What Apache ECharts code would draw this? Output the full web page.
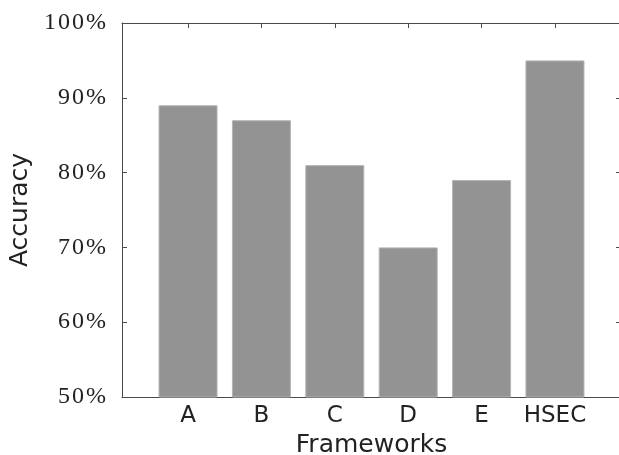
<!DOCTYPE html>
<html>
<head>
<meta charset="utf-8">
<script src="https://cdn.jsdelivr.net/npm/echarts@6/dist/echarts.min.js"></script>
<style>html,body{margin:0;padding:0;background:#fff}#c{width:619px;height:455px}</style>
</head>
<body>
<div id="c"></div>
<script>
const categories = ['A', 'B', 'C', 'D', 'E', 'HSEC'];
const accuracy = [89, 87, 81, 70, 79, 95];
const yTicks = [50, 60, 70, 80, 90, 100];
const xName = 'Frameworks';
const yName = 'Accuracy';

const positions = categories.map((c, i) => i + 1);
const seriesData = accuracy.map((v, i) => [positions[i], v]);
const axisColor = '#4a4a4a';
const hair = '\u200A';

const chart = echarts.init(document.getElementById('c'), null, {renderer: 'canvas'});
const xCommon = {
  type: 'value', min: 0.1, max: 6.9,
  splitLine: {show: false},
  axisLine: {show: true, onZero: false, lineStyle: {color: axisColor, width: 1}},
  axisTick: {show: true, inside: true, length: 5, customValues: positions, lineStyle: {color: axisColor}}
};
const yCommon = {
  type: 'value', min: yTicks[0], max: yTicks[yTicks.length - 1], interval: 10,
  splitLine: {show: false},
  axisLine: {show: true, onZero: false, lineStyle: {color: axisColor, width: 1}},
  axisTick: {show: true, inside: true, length: 5, lineStyle: {color: axisColor}}
};
chart.setOption({
  animation: false,
  grid: {left: 122, top: 23, right: -2, bottom: 58, containLabel: false, outerBoundsMode: 'none'},
  xAxis: [
    Object.assign({}, xCommon, {
      position: 'bottom',
      name: xName, nameLocation: 'middle', nameGap: 35,
      nameTextStyle: {fontFamily: 'DejaVu Sans', fontSize: 25, color: '#222'},
      axisLabel: {
        customValues: positions, margin: 8,
        fontFamily: 'DejaVu Sans', fontSize: 23, color: '#222',
        formatter: v => categories[Math.round(v) - 1] || ''
      }
    }),
    Object.assign({}, xCommon, {position: 'top', axisLabel: {show: false}})
  ],
  yAxis: [
    Object.assign({}, yCommon, {
      position: 'left',
      name: yName, nameLocation: 'middle', nameGap: 84,
      nameTextStyle: {fontFamily: 'DejaVu Sans', fontSize: 25, color: '#222'},
      axisLabel: {
        margin: 16, fontFamily: 'Liberation Serif', fontSize: 24, color: '#222',
        formatter: v => (String(v) + '%').split('').join(hair)
      }
    }),
    Object.assign({}, yCommon, {position: 'right', axisLabel: {show: false}})
  ],
  series: [{
    type: 'bar',
    xAxisIndex: 0, yAxisIndex: 0,
    data: seriesData,
    barWidth: 59,
    itemStyle: {color: '#939393', borderColor: '#b4b4b4', borderWidth: 1}
  }]
});
</script>
</body>
</html>
